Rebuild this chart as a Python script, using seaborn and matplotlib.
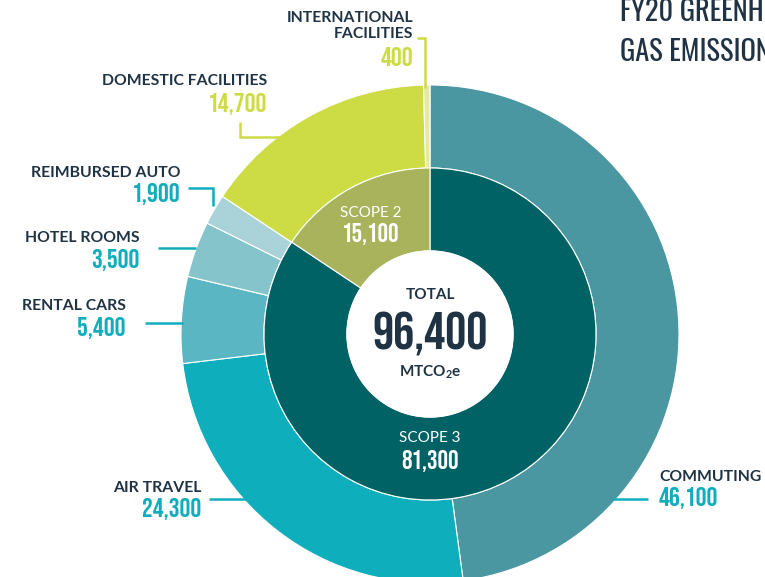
import numpy as np
import pandas as pd
import matplotlib.pyplot as plt
import seaborn as sns

# data
outer_labels = ['COMMUTING', 'AIR TRAVEL', 'RENTAL CARS', 'HOTEL ROOMS',
                'REIMBURSED AUTO', 'DOMESTIC FACILITIES', 'INTERNATIONAL\nFACILITIES']
outer_values = [46100, 24300, 5400, 3500, 1900, 14700, 400]
outer_colors = ['#4a97a2', '#0eaebd', '#5ab6c2', '#86c4cc', '#aad3d9', '#cddc45', '#e4e9a4']

inner_labels = ['SCOPE 3', 'SCOPE 2']
inner_values = [81300, 15100]
inner_colors = ['#006264', '#a8b35c']

total = 96400
title_lines = ['FY20 GREENHOUSE', 'GAS EMISSIONS']

df_outer = pd.DataFrame({'label': outer_labels, 'value': outer_values, 'color': outer_colors})
df_inner = pd.DataFrame({'label': inner_labels, 'value': inner_values, 'color': inner_colors})

sns.set_theme(style='white')
plt.rcParams['font.family'] = ['Lato', 'DejaVu Sans']
plt.rcParams['mathtext.fontset'] = 'custom'
plt.rcParams['mathtext.rm'] = 'Lato'
plt.rcParams['mathtext.bf'] = 'Lato:bold'
num_font = ['Bebas Neue', 'Oswald', 'DejaVu Sans']
title_font = ['Oswald', 'Bebas Neue', 'DejaVu Sans']

W, H = 765, 577
dark = '#1f3345'
teal = '#12adbc'
lime = '#cddc45'

fig = plt.figure(figsize=(W / 100, H / 100), dpi=100)
ax = fig.add_axes([0, 0, 1, 1])


def py(y):
    # pixel row (from top) -> data y
    return H - y


cx, cy = 430, py(334)
r_out, r_mid, r_in = 249, 166, 83

ax.pie(df_outer['value'], colors=df_outer['color'], startangle=90, counterclock=False,
       radius=r_out, center=(cx, cy), frame=True,
       wedgeprops=dict(width=r_out - r_mid, edgecolor='white', linewidth=0.8))
ax.pie(df_inner['value'], colors=df_inner['color'], startangle=90, counterclock=False,
       radius=r_mid, center=(cx, cy), frame=True,
       wedgeprops=dict(width=r_mid - r_in, edgecolor='white', linewidth=0.8))
ax.add_patch(plt.Circle((cx, cy), r_in, color='white', zorder=5))
ax.set_xlim(0, W)
ax.set_ylim(0, H)
ax.set_aspect('equal')
ax.axis('off')

# outer labels: (x, y_name, y_value, ha, value colour, leader points)
label_pos = [
    (659, 477, 498, 'left', teal, [(612, 499), (648, 499)]),
    (201, 488, 509, 'right', teal, [(209, 499), (246, 499)]),
    (126, 306, 328, 'right', teal, [(145, 323), (183, 323)]),
    (140, 238, 260, 'right', teal, [(158, 248), (196, 248)]),
    (181, 173, 194, 'right', teal, [(188, 188), (213, 188), (213, 206)]),
    (267, 81, 104, 'right', lime, [(240, 122), (240, 137), (284, 137)]),
    (413, 26, 57, 'right', lime, [(417, 38), (425, 38), (425, 88)]),
]
for (lab, val), (x, yn, yv, ha, vc, pts) in zip(zip(outer_labels, outer_values), label_pos):
    ax.text(x, py(yn), lab, ha=ha, va='center', fontsize=11.3, fontweight='bold',
            color=dark, linespacing=1.25)
    ax.text(x, py(yv), f'{val:,}', ha=ha, va='center', fontsize=19.5, color=vc,
            family=num_font)
    xs, ys = zip(*pts)
    ax.plot(xs, [py(v) for v in ys], color=vc, lw=1.8, solid_capstyle='butt',
            solid_joinstyle='miter', zorder=1)

# inner labels
ax.text(371, py(213), inner_labels[1], ha='center', va='center', fontsize=11,
        color='white')
ax.text(371, py(234), f'{inner_values[1]:,}', ha='center', va='center', fontsize=19,
        color='white', family=num_font)
ax.text(430, py(438), inner_labels[0], ha='center', va='center', fontsize=11,
        color='white')
ax.text(430, py(461), f'{inner_values[0]:,}', ha='center', va='center', fontsize=19,
        color='white', family=num_font)

# centre
ax.text(cx, py(295), 'TOTAL', ha='center', va='center', fontsize=11, fontweight='bold',
        color=dark, zorder=6)
ax.text(cx, py(334), f'{total:,}', ha='center', va='center', fontsize=38,
        color=dark, family=num_font, zorder=6)
ax.text(cx, py(372), r'MTCO$_{\mathbf{2}}$e', ha='center', va='center', fontsize=11,
        fontweight='bold', color=dark, zorder=6)

# title (runs off the right edge, as in the source)
ax.text(620, py(12), title_lines[0], ha='left', va='center', fontsize=20.5, color=dark,
        family=title_font)
ax.text(620, py(52), title_lines[1], ha='left', va='center', fontsize=20.5, color=dark,
        family=title_font)

plt.savefig('out.png', dpi=100)
